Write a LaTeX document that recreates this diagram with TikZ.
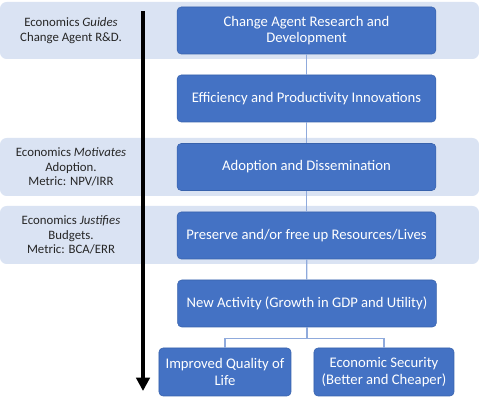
\documentclass[tikz,border=0pt]{standalone}
\usepackage{fontspec}
\setmainfont{Carlito}
\usepackage{xcolor}
\definecolor{bandblue}{RGB}{218,227,243}
\definecolor{boxblue}{RGB}{68,114,196}
\definecolor{boxedge}{RGB}{56,98,172}
\definecolor{linkblue}{RGB}{143,170,220}
\usetikzlibrary{arrows.meta}

\begin{document}
\begin{tikzpicture}[x=0.75pt, y=-0.75pt,
    stage/.style={rectangle, rounded corners=3pt, fill=boxblue, draw=boxedge, text=white,
      minimum width=194pt, minimum height=35.25pt, inner sep=2pt, align=center,
      font=\fontsize{11}{12.5}\selectfont},
    leaf/.style={stage, minimum height=36pt},
    econ/.style={align=center, text=black!85, font=\fontsize{9.6}{10.8}\selectfont},
    link/.style={draw=linkblue, line width=1pt}]
      \useasboundingbox (0,0) rectangle (480,406);
      % Economics bands
      \fill[bandblue, rounded corners=5pt] (0,2) rectangle (479,59);
      \fill[bandblue, rounded corners=5pt] (0,138) rectangle (479,196);
      \fill[bandblue, rounded corners=5pt] (0,206) rectangle (479,264);
      \node[econ] (guides) at (71,30.5) {Economics \textit{Guides}\\Change Agent R\&D.};
      \node[econ] (motivates) at (71,167) {Economics \textit{Motivates}\\Adoption.\\Metric: NPV/IRR};
      \node[econ] (justifies) at (71,235) {Economics \textit{Justifies}\\Budgets.\\Metric: BCA/ERR};
      % Time arrow
      \coordinate (flowtop) at (143,11);
      \coordinate (flowend) at (143,391);
      \draw[line width=3pt, -{Triangle[length=10pt, width=10pt]}] (flowtop) -- (flowend);
      % Stages of the chain
      \node[stage] (research) at (306.5,30.5) {Change Agent Research and\\Development};
      \node[stage] (efficiency) at (306.5,98.5) {Efficiency and Productivity Innovations};
      \node[stage] (adoption) at (306.5,167) {Adoption and Dissemination};
      \node[stage] (preserve) at (306.5,235.5) {Preserve and/or free up Resources/Lives};
      \node[stage] (activity) at (307,303.5) {New Activity (Growth in GDP and Utility)};
      \node[leaf, minimum width=99pt] (quality) at (225,372) {Improved Quality of\\Life};
      \node[leaf, minimum width=105pt] (security) at (384,372) {Economic Security\\(Better and Cheaper)};
      % Links between stages
      \draw[link] (research) -- (efficiency);
      \draw[link] (efficiency) -- (adoption);
      \draw[link] (adoption) -- (preserve);
      \draw[link] (preserve) -- (activity);
      \draw[link] (activity.south) -- ++(0,11) coordinate (split);
      \draw[link] (split) -| (quality.north);
      \draw[link] (split) -| (security.north);
    \end{tikzpicture}
\end{document}
